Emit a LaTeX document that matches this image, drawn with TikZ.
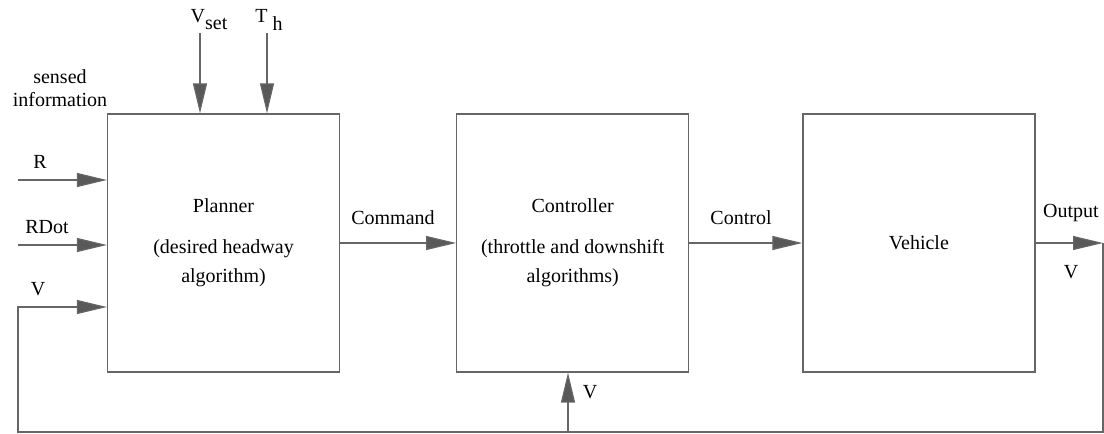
\documentclass[tikz,border=0pt]{standalone}
\usepackage{fontspec}
\setmainfont{Liberation Serif}
\usetikzlibrary{positioning,arrows.meta}

\tikzset{
  block/.style={draw=black!60, line width=1.2pt, minimum width=232pt,
    minimum height=258pt, align=center, inner sep=0pt},
  sig/.style={draw=black!60, line width=1.2pt},
  sigarrow/.style={sig, -{Triangle[length=30pt,width=14pt,fill=black!65]}},
  lbl/.style={inner sep=0pt},
}

\begin{document}
\begin{tikzpicture}[x=1pt,y=1pt,font=\fontsize{20}{29}\selectfont]
  \useasboundingbox (0,0) rectangle (1104,434);

  % The three blocks of the loop
  \node[block] (planner) at (223.5,191) {Planner\\[12pt](desired headway\\algorithm)};
  \node[block, right=116pt of planner] (controller) {Controller\\[12pt](throttle and downshift\\algorithms)};
  \node[block, right=113pt of controller] (vehicle) {Vehicle};

  % Sensed inputs and set points
  \coordinate (rin) at (18,254);
  \coordinate (rdotin) at (18,189);
  \coordinate (vsetin) at (200,401);
  \coordinate (thin) at (267,401);
  \draw[sigarrow] (rin) -- (rin -| planner.west);
  \draw[sigarrow] (rdotin) -- (rdotin -| planner.west);
  \draw[sigarrow] (vsetin) -- (vsetin |- planner.north);
  \draw[sigarrow] (thin) -- (thin |- planner.north);

  % Forward path
  \coordinate (fbright) at (1103,2);
  \coordinate (fbleft) at (18,2);
  \coordinate (vin) at (18,127);
  \coordinate (branch) at (568,2);
  \coordinate (outend) at (vehicle.east -| fbright);
  \draw[sigarrow] (planner.east) -- (controller.west);
  \draw[sigarrow] (controller.east) -- (vehicle.west);
  \draw[sigarrow] (vehicle.east) -- (outend);

  % Speed fed back to planner and controller
  \draw[sigarrow] (outend) -- (fbright) -- (fbleft) -- (vin) -- (vin -| planner.west);
  \draw[sigarrow] (branch) -- (branch |- controller.south);

  % Labels
  \node[lbl] (vsetlbl) at (209,414) {V\raisebox{-7pt}{set}};
  \node[lbl] (thlbl) at (269,414) {T \raisebox{-8pt}{h}};
  \node[lbl, align=center, font=\fontsize{20}{23}\selectfont] (sensedlbl) at (60,346) {sensed\\information};
  \node[lbl] (rlbl) at (40,272) {R};
  \node[lbl] (rdotlbl) at (47,207) {RDot};
  \node[lbl] (vlbl) at (38,145) {V};
  \node[lbl] (cmdlbl) at (393,216) {Command};
  \node[lbl] (ctrllbl) at (741,216) {Control};
  \node[lbl] (outlbl) at (1071,221) {Output};
  \node[lbl] (voutlbl) at (1071,162) {V};
  \node[lbl] (vfblbl) at (590,42) {V};
\end{tikzpicture}
\end{document}
